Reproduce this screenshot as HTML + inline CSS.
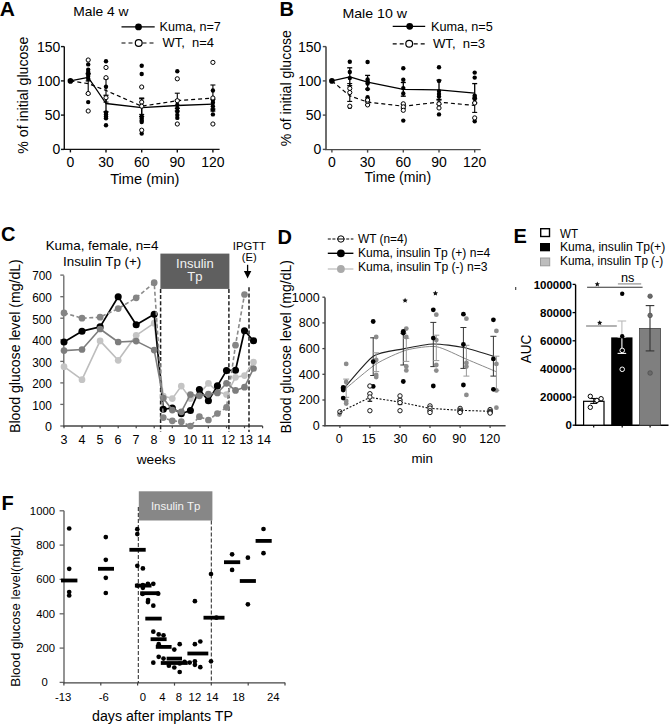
<!DOCTYPE html>
<html><head><meta charset="utf-8"><style>
html,body{margin:0;padding:0;background:#fff;}
svg{display:block;font-family:"Liberation Sans", sans-serif;}
</style></head><body>
<svg width="669" height="725" viewBox="0 0 669 725">
<rect width="669" height="725" fill="#fff"/>
<text x="-0.2" y="15.8" font-size="21" text-anchor="start" font-weight="bold" fill="#000" xml:space="preserve">A</text>
<text x="73.2" y="16.0" font-size="13.5" text-anchor="start" font-weight="normal" fill="#000" textLength="55.3" lengthAdjust="spacingAndGlyphs" xml:space="preserve">Male 4 w</text>
<line x1="121.5" y1="26.9" x2="154.7" y2="26.9" stroke="#000" stroke-width="1.2"/>
<circle cx="138.5" cy="26.9" r="3.4" fill="#000" stroke="none" stroke-width="1"/>
<text x="159.6" y="31.0" font-size="13.3" text-anchor="start" font-weight="normal" fill="#000" textLength="61.2" lengthAdjust="spacingAndGlyphs" xml:space="preserve">Kuma, n=7</text>
<line x1="121.5" y1="43.0" x2="154.7" y2="43.0" stroke="#000" stroke-width="1.2" stroke-dasharray="4,3"/>
<circle cx="138.7" cy="43.0" r="3.4" fill="#fff" stroke="#000" stroke-width="1.2"/>
<text x="162.5" y="47.4" font-size="13.3" text-anchor="start" font-weight="normal" fill="#000" textLength="51.5" lengthAdjust="spacingAndGlyphs" xml:space="preserve">WT,  n=4</text>
<line x1="64.3" y1="46.6" x2="64.3" y2="150.0" stroke="#111" stroke-width="1.4"/>
<line x1="61.0" y1="149.4" x2="64.3" y2="149.4" stroke="#111" stroke-width="1.4"/>
<text x="60.4" y="154.4" font-size="14" text-anchor="end" font-weight="normal" fill="#000" xml:space="preserve">0</text>
<line x1="61.0" y1="115.1" x2="64.3" y2="115.1" stroke="#111" stroke-width="1.4"/>
<text x="60.4" y="120.1" font-size="14" text-anchor="end" font-weight="normal" fill="#000" xml:space="preserve">50</text>
<line x1="61.0" y1="80.9" x2="64.3" y2="80.9" stroke="#111" stroke-width="1.4"/>
<text x="60.4" y="85.9" font-size="14" text-anchor="end" font-weight="normal" fill="#000" xml:space="preserve">100</text>
<line x1="61.0" y1="46.6" x2="64.3" y2="46.6" stroke="#111" stroke-width="1.4"/>
<text x="60.4" y="51.6" font-size="14" text-anchor="end" font-weight="normal" fill="#000" xml:space="preserve">150</text>
<line x1="63.6" y1="149.4" x2="219.6" y2="149.4" stroke="#111" stroke-width="1.4"/>
<line x1="70.4" y1="149.4" x2="70.4" y2="152.4" stroke="#111" stroke-width="1.4"/>
<text x="70.4" y="166.9" font-size="14" text-anchor="middle" font-weight="normal" fill="#000" xml:space="preserve">0</text>
<line x1="106.0" y1="149.4" x2="106.0" y2="152.4" stroke="#111" stroke-width="1.4"/>
<text x="106.0" y="166.9" font-size="14" text-anchor="middle" font-weight="normal" fill="#000" xml:space="preserve">30</text>
<line x1="141.7" y1="149.4" x2="141.7" y2="152.4" stroke="#111" stroke-width="1.4"/>
<text x="141.7" y="166.9" font-size="14" text-anchor="middle" font-weight="normal" fill="#000" xml:space="preserve">60</text>
<line x1="177.3" y1="149.4" x2="177.3" y2="152.4" stroke="#111" stroke-width="1.4"/>
<text x="177.3" y="166.9" font-size="14" text-anchor="middle" font-weight="normal" fill="#000" xml:space="preserve">90</text>
<line x1="212.9" y1="149.4" x2="212.9" y2="152.4" stroke="#111" stroke-width="1.4"/>
<text x="212.9" y="166.9" font-size="14" text-anchor="middle" font-weight="normal" fill="#000" xml:space="preserve">120</text>
<text x="144.8" y="183.6" font-size="14" text-anchor="middle" font-weight="normal" fill="#000" textLength="69.3" lengthAdjust="spacingAndGlyphs" xml:space="preserve">Time (min)</text>
<text x="27.9" y="95.2" font-size="14" text-anchor="middle" font-weight="normal" fill="#000" textLength="116.9" lengthAdjust="spacingAndGlyphs" transform="rotate(-90 27.9 95.2)" xml:space="preserve">% of initial glucose</text>
<polyline points="70.4,80.9 88.2,83.6 106.0,90.5 141.7,106.2 177.3,100.7 212.9,98.0" fill="none" stroke="#000" stroke-width="1.2" stroke-linejoin="round" stroke-dasharray="4,3"/>
<polyline points="70.4,80.9 88.2,77.4 106.0,103.5 141.7,107.6 177.3,105.5 212.9,104.2" fill="none" stroke="#000" stroke-width="1.3" stroke-linejoin="round"/>
<line x1="88.2" y1="73.3" x2="88.2" y2="93.9" stroke="#000" stroke-width="1.1"/>
<line x1="85.7" y1="73.3" x2="90.7" y2="73.3" stroke="#000" stroke-width="1.1"/>
<line x1="85.7" y1="93.9" x2="90.7" y2="93.9" stroke="#000" stroke-width="1.1"/>
<line x1="88.2" y1="74.0" x2="88.2" y2="80.9" stroke="#000" stroke-width="1.3"/>
<line x1="85.7" y1="74.0" x2="90.7" y2="74.0" stroke="#000" stroke-width="1.3"/>
<line x1="85.7" y1="80.9" x2="90.7" y2="80.9" stroke="#000" stroke-width="1.3"/>
<circle cx="88.2" cy="64.4" r="2.2" fill="#000" stroke="none" stroke-width="1"/>
<circle cx="88.2" cy="69.6" r="2.2" fill="#000" stroke="none" stroke-width="1"/>
<circle cx="88.2" cy="72.0" r="2.2" fill="#000" stroke="none" stroke-width="1"/>
<circle cx="88.2" cy="74.0" r="2.2" fill="#000" stroke="none" stroke-width="1"/>
<circle cx="88.2" cy="76.1" r="2.2" fill="#000" stroke="none" stroke-width="1"/>
<circle cx="88.2" cy="78.8" r="2.2" fill="#000" stroke="none" stroke-width="1"/>
<circle cx="88.2" cy="102.1" r="2.2" fill="#000" stroke="none" stroke-width="1"/>
<circle cx="88.2" cy="60.0" r="2.1" fill="#fff" stroke="#000" stroke-width="1.0"/>
<circle cx="88.2" cy="93.5" r="2.1" fill="#fff" stroke="#000" stroke-width="1.0"/>
<circle cx="88.2" cy="111.0" r="2.1" fill="#fff" stroke="#000" stroke-width="1.0"/>
<line x1="106.0" y1="78.8" x2="106.0" y2="102.1" stroke="#000" stroke-width="1.1"/>
<line x1="103.5" y1="78.8" x2="108.5" y2="78.8" stroke="#000" stroke-width="1.1"/>
<line x1="103.5" y1="102.1" x2="108.5" y2="102.1" stroke="#000" stroke-width="1.1"/>
<line x1="106.0" y1="95.3" x2="106.0" y2="111.7" stroke="#000" stroke-width="1.3"/>
<line x1="103.5" y1="95.3" x2="108.5" y2="95.3" stroke="#000" stroke-width="1.3"/>
<line x1="103.5" y1="111.7" x2="108.5" y2="111.7" stroke="#000" stroke-width="1.3"/>
<circle cx="106.0" cy="61.3" r="2.2" fill="#000" stroke="none" stroke-width="1"/>
<circle cx="106.0" cy="86.8" r="2.2" fill="#000" stroke="none" stroke-width="1"/>
<circle cx="106.0" cy="112.4" r="2.2" fill="#000" stroke="none" stroke-width="1"/>
<circle cx="106.0" cy="114.4" r="2.2" fill="#000" stroke="none" stroke-width="1"/>
<circle cx="106.0" cy="116.5" r="2.2" fill="#000" stroke="none" stroke-width="1"/>
<circle cx="106.0" cy="118.2" r="2.2" fill="#000" stroke="none" stroke-width="1"/>
<circle cx="106.0" cy="125.2" r="2.2" fill="#000" stroke="none" stroke-width="1"/>
<circle cx="106.0" cy="67.5" r="2.1" fill="#fff" stroke="#000" stroke-width="1.0"/>
<circle cx="106.0" cy="77.7" r="2.1" fill="#fff" stroke="#000" stroke-width="1.0"/>
<circle cx="106.0" cy="97.7" r="2.1" fill="#fff" stroke="#000" stroke-width="1.0"/>
<line x1="141.7" y1="98.0" x2="141.7" y2="114.4" stroke="#000" stroke-width="1.1"/>
<line x1="139.2" y1="98.0" x2="144.2" y2="98.0" stroke="#000" stroke-width="1.1"/>
<line x1="139.2" y1="114.4" x2="144.2" y2="114.4" stroke="#000" stroke-width="1.1"/>
<line x1="141.7" y1="98.7" x2="141.7" y2="116.5" stroke="#000" stroke-width="1.3"/>
<line x1="139.2" y1="98.7" x2="144.2" y2="98.7" stroke="#000" stroke-width="1.3"/>
<line x1="139.2" y1="116.5" x2="144.2" y2="116.5" stroke="#000" stroke-width="1.3"/>
<circle cx="141.7" cy="65.8" r="2.2" fill="#000" stroke="none" stroke-width="1"/>
<circle cx="141.7" cy="74.0" r="2.2" fill="#000" stroke="none" stroke-width="1"/>
<circle cx="141.7" cy="116.5" r="2.2" fill="#000" stroke="none" stroke-width="1"/>
<circle cx="141.7" cy="118.6" r="2.2" fill="#000" stroke="none" stroke-width="1"/>
<circle cx="141.7" cy="120.6" r="2.2" fill="#000" stroke="none" stroke-width="1"/>
<circle cx="141.7" cy="122.0" r="2.2" fill="#000" stroke="none" stroke-width="1"/>
<circle cx="141.7" cy="133.6" r="2.2" fill="#000" stroke="none" stroke-width="1"/>
<circle cx="141.7" cy="87.0" r="2.1" fill="#fff" stroke="#000" stroke-width="1.0"/>
<circle cx="141.7" cy="102.1" r="2.1" fill="#fff" stroke="#000" stroke-width="1.0"/>
<circle cx="141.7" cy="130.2" r="2.1" fill="#fff" stroke="#000" stroke-width="1.0"/>
<circle cx="141.7" cy="106.2" r="2.1" fill="#fff" stroke="#000" stroke-width="1.0"/>
<line x1="177.3" y1="93.2" x2="177.3" y2="108.3" stroke="#000" stroke-width="1.1"/>
<line x1="174.8" y1="93.2" x2="179.8" y2="93.2" stroke="#000" stroke-width="1.1"/>
<line x1="174.8" y1="108.3" x2="179.8" y2="108.3" stroke="#000" stroke-width="1.1"/>
<line x1="177.3" y1="100.1" x2="177.3" y2="111.0" stroke="#000" stroke-width="1.3"/>
<line x1="174.8" y1="100.1" x2="179.8" y2="100.1" stroke="#000" stroke-width="1.3"/>
<line x1="174.8" y1="111.0" x2="179.8" y2="111.0" stroke="#000" stroke-width="1.3"/>
<circle cx="177.3" cy="71.3" r="2.2" fill="#000" stroke="none" stroke-width="1"/>
<circle cx="177.3" cy="104.9" r="2.2" fill="#000" stroke="none" stroke-width="1"/>
<circle cx="177.3" cy="108.3" r="2.2" fill="#000" stroke="none" stroke-width="1"/>
<circle cx="177.3" cy="111.7" r="2.2" fill="#000" stroke="none" stroke-width="1"/>
<circle cx="177.3" cy="115.1" r="2.2" fill="#000" stroke="none" stroke-width="1"/>
<circle cx="177.3" cy="117.9" r="2.2" fill="#000" stroke="none" stroke-width="1"/>
<circle cx="177.3" cy="78.8" r="2.1" fill="#fff" stroke="#000" stroke-width="1.0"/>
<circle cx="177.3" cy="100.7" r="2.1" fill="#fff" stroke="#000" stroke-width="1.0"/>
<circle cx="177.3" cy="124.0" r="2.1" fill="#fff" stroke="#000" stroke-width="1.0"/>
<line x1="212.9" y1="85.0" x2="212.9" y2="111.0" stroke="#000" stroke-width="1.1"/>
<line x1="210.4" y1="85.0" x2="215.4" y2="85.0" stroke="#000" stroke-width="1.1"/>
<line x1="210.4" y1="111.0" x2="215.4" y2="111.0" stroke="#000" stroke-width="1.1"/>
<line x1="212.9" y1="99.4" x2="212.9" y2="109.0" stroke="#000" stroke-width="1.3"/>
<line x1="210.4" y1="99.4" x2="215.4" y2="99.4" stroke="#000" stroke-width="1.3"/>
<line x1="210.4" y1="109.0" x2="215.4" y2="109.0" stroke="#000" stroke-width="1.3"/>
<circle cx="212.9" cy="90.5" r="2.2" fill="#000" stroke="none" stroke-width="1"/>
<circle cx="212.9" cy="100.1" r="2.2" fill="#000" stroke="none" stroke-width="1"/>
<circle cx="212.9" cy="102.8" r="2.2" fill="#000" stroke="none" stroke-width="1"/>
<circle cx="212.9" cy="106.2" r="2.2" fill="#000" stroke="none" stroke-width="1"/>
<circle cx="212.9" cy="109.7" r="2.2" fill="#000" stroke="none" stroke-width="1"/>
<circle cx="212.9" cy="114.4" r="2.2" fill="#000" stroke="none" stroke-width="1"/>
<circle cx="212.9" cy="62.4" r="2.1" fill="#fff" stroke="#000" stroke-width="1.0"/>
<circle cx="212.9" cy="98.0" r="2.1" fill="#fff" stroke="#000" stroke-width="1.0"/>
<circle cx="212.9" cy="124.0" r="2.1" fill="#fff" stroke="#000" stroke-width="1.0"/>
<circle cx="70.4" cy="80.9" r="2.8" fill="#000" stroke="none" stroke-width="1"/>
<text x="279.6" y="15.8" font-size="20" text-anchor="start" font-weight="bold" fill="#000" xml:space="preserve">B</text>
<text x="342.4" y="17.5" font-size="13.5" text-anchor="start" font-weight="normal" fill="#000" textLength="64.6" lengthAdjust="spacingAndGlyphs" xml:space="preserve">Male 10 w</text>
<line x1="392.7" y1="26.3" x2="425.2" y2="26.3" stroke="#000" stroke-width="1.2"/>
<circle cx="409.7" cy="26.3" r="3.4" fill="#000" stroke="none" stroke-width="1"/>
<text x="431.0" y="31.3" font-size="13.3" text-anchor="start" font-weight="normal" fill="#000" textLength="61.7" lengthAdjust="spacingAndGlyphs" xml:space="preserve">Kuma, n=5</text>
<line x1="392.7" y1="43.8" x2="425.2" y2="43.8" stroke="#000" stroke-width="1.2" stroke-dasharray="4,3"/>
<circle cx="409.2" cy="43.8" r="3.4" fill="#fff" stroke="#000" stroke-width="1.2"/>
<text x="432.9" y="48.0" font-size="13.3" text-anchor="start" font-weight="normal" fill="#000" textLength="52.3" lengthAdjust="spacingAndGlyphs" xml:space="preserve">WT,  n=3</text>
<line x1="326.0" y1="46.6" x2="326.0" y2="150.0" stroke="#4a4a4a" stroke-width="1.6"/>
<line x1="322.8" y1="149.4" x2="326.0" y2="149.4" stroke="#4a4a4a" stroke-width="1.4"/>
<text x="321.4" y="154.4" font-size="14" text-anchor="end" font-weight="normal" fill="#000" xml:space="preserve">0</text>
<line x1="322.8" y1="115.1" x2="326.0" y2="115.1" stroke="#4a4a4a" stroke-width="1.4"/>
<text x="321.4" y="120.1" font-size="14" text-anchor="end" font-weight="normal" fill="#000" xml:space="preserve">50</text>
<line x1="322.8" y1="80.9" x2="326.0" y2="80.9" stroke="#4a4a4a" stroke-width="1.4"/>
<text x="321.4" y="85.9" font-size="14" text-anchor="end" font-weight="normal" fill="#000" xml:space="preserve">100</text>
<line x1="322.8" y1="46.6" x2="326.0" y2="46.6" stroke="#4a4a4a" stroke-width="1.4"/>
<text x="321.4" y="51.6" font-size="14" text-anchor="end" font-weight="normal" fill="#000" xml:space="preserve">150</text>
<line x1="325.2" y1="149.6" x2="480.7" y2="149.6" stroke="#4a4a4a" stroke-width="1.4"/>
<line x1="331.9" y1="149.6" x2="331.9" y2="152.6" stroke="#4a4a4a" stroke-width="1.4"/>
<text x="331.9" y="166.5" font-size="14" text-anchor="middle" font-weight="normal" fill="#000" xml:space="preserve">0</text>
<line x1="367.6" y1="149.6" x2="367.6" y2="152.6" stroke="#4a4a4a" stroke-width="1.4"/>
<text x="367.6" y="166.5" font-size="14" text-anchor="middle" font-weight="normal" fill="#000" xml:space="preserve">30</text>
<line x1="403.3" y1="149.6" x2="403.3" y2="152.6" stroke="#4a4a4a" stroke-width="1.4"/>
<text x="403.3" y="166.5" font-size="14" text-anchor="middle" font-weight="normal" fill="#000" xml:space="preserve">60</text>
<line x1="439.0" y1="149.6" x2="439.0" y2="152.6" stroke="#4a4a4a" stroke-width="1.4"/>
<text x="439.0" y="166.5" font-size="14" text-anchor="middle" font-weight="normal" fill="#000" xml:space="preserve">90</text>
<line x1="474.7" y1="149.6" x2="474.7" y2="152.6" stroke="#4a4a4a" stroke-width="1.4"/>
<text x="474.7" y="166.5" font-size="14" text-anchor="middle" font-weight="normal" fill="#000" xml:space="preserve">120</text>
<text x="397.8" y="181.8" font-size="14" text-anchor="middle" font-weight="normal" fill="#000" textLength="66.6" lengthAdjust="spacingAndGlyphs" xml:space="preserve">Time (min)</text>
<text x="290.7" y="88.3" font-size="14" text-anchor="middle" font-weight="normal" fill="#000" textLength="116.1" lengthAdjust="spacingAndGlyphs" transform="rotate(-90 290.7 88.3)" xml:space="preserve">% of initial glucose</text>
<polyline points="331.9,80.9 349.8,95.9 367.6,102.1 403.3,106.2 439.0,102.1 474.7,105.5" fill="none" stroke="#000" stroke-width="1.2" stroke-linejoin="round" stroke-dasharray="4,3"/>
<polyline points="331.9,80.9 349.8,76.8 367.6,82.2 403.3,89.4 439.0,89.8 474.7,93.2" fill="none" stroke="#000" stroke-width="1.3" stroke-linejoin="round"/>
<line x1="349.8" y1="83.6" x2="349.8" y2="101.4" stroke="#000" stroke-width="1.1"/>
<line x1="347.2" y1="83.6" x2="352.2" y2="83.6" stroke="#000" stroke-width="1.1"/>
<line x1="347.2" y1="101.4" x2="352.2" y2="101.4" stroke="#000" stroke-width="1.1"/>
<line x1="349.8" y1="67.8" x2="349.8" y2="85.7" stroke="#000" stroke-width="1.3"/>
<line x1="347.2" y1="67.8" x2="352.2" y2="67.8" stroke="#000" stroke-width="1.3"/>
<line x1="347.2" y1="85.7" x2="352.2" y2="85.7" stroke="#000" stroke-width="1.3"/>
<circle cx="349.8" cy="61.7" r="2.2" fill="#000" stroke="none" stroke-width="1"/>
<circle cx="349.8" cy="72.0" r="2.2" fill="#000" stroke="none" stroke-width="1"/>
<circle cx="349.8" cy="78.1" r="2.2" fill="#000" stroke="none" stroke-width="1"/>
<circle cx="349.8" cy="106.9" r="2.2" fill="#000" stroke="none" stroke-width="1"/>
<circle cx="349.8" cy="88.4" r="2.1" fill="#fff" stroke="#000" stroke-width="1.0"/>
<circle cx="349.8" cy="92.5" r="2.1" fill="#fff" stroke="#000" stroke-width="1.0"/>
<circle cx="349.8" cy="106.2" r="2.1" fill="#fff" stroke="#000" stroke-width="1.0"/>
<line x1="367.6" y1="99.4" x2="367.6" y2="104.9" stroke="#000" stroke-width="1.1"/>
<line x1="365.1" y1="99.4" x2="370.1" y2="99.4" stroke="#000" stroke-width="1.1"/>
<line x1="365.1" y1="104.9" x2="370.1" y2="104.9" stroke="#000" stroke-width="1.1"/>
<line x1="367.6" y1="75.4" x2="367.6" y2="89.1" stroke="#000" stroke-width="1.3"/>
<line x1="365.1" y1="75.4" x2="370.1" y2="75.4" stroke="#000" stroke-width="1.3"/>
<line x1="365.1" y1="89.1" x2="370.1" y2="89.1" stroke="#000" stroke-width="1.3"/>
<circle cx="367.6" cy="62.0" r="2.2" fill="#000" stroke="none" stroke-width="1"/>
<circle cx="367.6" cy="79.5" r="2.2" fill="#000" stroke="none" stroke-width="1"/>
<circle cx="367.6" cy="81.6" r="2.2" fill="#000" stroke="none" stroke-width="1"/>
<circle cx="367.6" cy="83.6" r="2.2" fill="#000" stroke="none" stroke-width="1"/>
<circle cx="367.6" cy="89.1" r="2.2" fill="#000" stroke="none" stroke-width="1"/>
<circle cx="367.6" cy="97.3" r="2.2" fill="#000" stroke="none" stroke-width="1"/>
<circle cx="367.6" cy="99.4" r="2.2" fill="#000" stroke="none" stroke-width="1"/>
<circle cx="367.6" cy="101.4" r="2.2" fill="#000" stroke="none" stroke-width="1"/>
<circle cx="367.6" cy="104.9" r="2.1" fill="#fff" stroke="#000" stroke-width="1.0"/>
<circle cx="367.6" cy="101.4" r="2.1" fill="#fff" stroke="#000" stroke-width="1.0"/>
<circle cx="367.6" cy="100.1" r="2.1" fill="#fff" stroke="#000" stroke-width="1.0"/>
<line x1="403.3" y1="104.2" x2="403.3" y2="108.3" stroke="#000" stroke-width="1.1"/>
<line x1="400.8" y1="104.2" x2="405.8" y2="104.2" stroke="#000" stroke-width="1.1"/>
<line x1="400.8" y1="108.3" x2="405.8" y2="108.3" stroke="#000" stroke-width="1.1"/>
<line x1="403.3" y1="82.5" x2="403.3" y2="96.2" stroke="#000" stroke-width="1.3"/>
<line x1="400.8" y1="82.5" x2="405.8" y2="82.5" stroke="#000" stroke-width="1.3"/>
<line x1="400.8" y1="96.2" x2="405.8" y2="96.2" stroke="#000" stroke-width="1.3"/>
<circle cx="403.3" cy="68.2" r="2.2" fill="#000" stroke="none" stroke-width="1"/>
<circle cx="403.3" cy="79.8" r="2.2" fill="#000" stroke="none" stroke-width="1"/>
<circle cx="403.3" cy="88.1" r="2.2" fill="#000" stroke="none" stroke-width="1"/>
<circle cx="403.3" cy="93.5" r="2.2" fill="#000" stroke="none" stroke-width="1"/>
<circle cx="403.3" cy="120.6" r="2.2" fill="#000" stroke="none" stroke-width="1"/>
<circle cx="403.3" cy="103.8" r="2.1" fill="#fff" stroke="#000" stroke-width="1.0"/>
<circle cx="403.3" cy="106.9" r="2.1" fill="#fff" stroke="#000" stroke-width="1.0"/>
<circle cx="403.3" cy="110.3" r="2.1" fill="#fff" stroke="#000" stroke-width="1.0"/>
<line x1="439.0" y1="100.1" x2="439.0" y2="104.2" stroke="#000" stroke-width="1.1"/>
<line x1="436.5" y1="100.1" x2="441.5" y2="100.1" stroke="#000" stroke-width="1.1"/>
<line x1="436.5" y1="104.2" x2="441.5" y2="104.2" stroke="#000" stroke-width="1.1"/>
<line x1="439.0" y1="80.2" x2="439.0" y2="99.4" stroke="#000" stroke-width="1.3"/>
<line x1="436.5" y1="80.2" x2="441.5" y2="80.2" stroke="#000" stroke-width="1.3"/>
<line x1="436.5" y1="99.4" x2="441.5" y2="99.4" stroke="#000" stroke-width="1.3"/>
<circle cx="439.0" cy="67.2" r="2.2" fill="#000" stroke="none" stroke-width="1"/>
<circle cx="439.0" cy="80.9" r="2.2" fill="#000" stroke="none" stroke-width="1"/>
<circle cx="439.0" cy="91.1" r="2.2" fill="#000" stroke="none" stroke-width="1"/>
<circle cx="439.0" cy="93.9" r="2.2" fill="#000" stroke="none" stroke-width="1"/>
<circle cx="439.0" cy="96.6" r="2.2" fill="#000" stroke="none" stroke-width="1"/>
<circle cx="439.0" cy="114.4" r="2.2" fill="#000" stroke="none" stroke-width="1"/>
<circle cx="439.0" cy="103.8" r="2.1" fill="#fff" stroke="#000" stroke-width="1.0"/>
<circle cx="439.0" cy="108.0" r="2.1" fill="#fff" stroke="#000" stroke-width="1.0"/>
<line x1="474.7" y1="98.7" x2="474.7" y2="112.4" stroke="#000" stroke-width="1.1"/>
<line x1="472.2" y1="98.7" x2="477.2" y2="98.7" stroke="#000" stroke-width="1.1"/>
<line x1="472.2" y1="112.4" x2="477.2" y2="112.4" stroke="#000" stroke-width="1.1"/>
<line x1="474.7" y1="83.6" x2="474.7" y2="102.8" stroke="#000" stroke-width="1.3"/>
<line x1="472.2" y1="83.6" x2="477.2" y2="83.6" stroke="#000" stroke-width="1.3"/>
<line x1="472.2" y1="102.8" x2="477.2" y2="102.8" stroke="#000" stroke-width="1.3"/>
<circle cx="474.7" cy="72.6" r="2.2" fill="#000" stroke="none" stroke-width="1"/>
<circle cx="474.7" cy="77.6" r="2.2" fill="#000" stroke="none" stroke-width="1"/>
<circle cx="474.7" cy="95.6" r="2.2" fill="#000" stroke="none" stroke-width="1"/>
<circle cx="474.7" cy="97.3" r="2.2" fill="#000" stroke="none" stroke-width="1"/>
<circle cx="474.7" cy="98.9" r="2.2" fill="#000" stroke="none" stroke-width="1"/>
<circle cx="474.7" cy="121.3" r="2.2" fill="#000" stroke="none" stroke-width="1"/>
<circle cx="474.7" cy="103.0" r="2.1" fill="#fff" stroke="#000" stroke-width="1.0"/>
<circle cx="474.7" cy="117.9" r="2.1" fill="#fff" stroke="#000" stroke-width="1.0"/>
<circle cx="331.9" cy="80.9" r="2.8" fill="#000" stroke="none" stroke-width="1"/>
<text x="1.0" y="241.3" font-size="20" text-anchor="start" font-weight="bold" fill="#000" xml:space="preserve">C</text>
<text x="45.7" y="249.9" font-size="13.4" text-anchor="start" font-weight="normal" fill="#000" textLength="112.7" lengthAdjust="spacingAndGlyphs" xml:space="preserve">Kuma, female, n=4</text>
<text x="63.0" y="265.5" font-size="13.4" text-anchor="start" font-weight="normal" fill="#000" textLength="78.3" lengthAdjust="spacingAndGlyphs" xml:space="preserve">Insulin Tp (+)</text>
<line x1="63.8" y1="275.6" x2="63.8" y2="426.6" stroke="#666" stroke-width="1.3"/>
<line x1="60.3" y1="426.0" x2="63.8" y2="426.0" stroke="#666" stroke-width="1.3"/>
<text x="51.9" y="431.3" font-size="12.5" text-anchor="end" font-weight="normal" fill="#000" xml:space="preserve">0</text>
<line x1="60.3" y1="404.4" x2="63.8" y2="404.4" stroke="#666" stroke-width="1.3"/>
<text x="51.9" y="409.8" font-size="12.5" text-anchor="end" font-weight="normal" fill="#000" textLength="19.7" lengthAdjust="spacingAndGlyphs" xml:space="preserve">100</text>
<line x1="60.3" y1="382.9" x2="63.8" y2="382.9" stroke="#666" stroke-width="1.3"/>
<text x="51.9" y="388.2" font-size="12.5" text-anchor="end" font-weight="normal" fill="#000" textLength="19.7" lengthAdjust="spacingAndGlyphs" xml:space="preserve">200</text>
<line x1="60.3" y1="361.4" x2="63.8" y2="361.4" stroke="#666" stroke-width="1.3"/>
<text x="51.9" y="366.7" font-size="12.5" text-anchor="end" font-weight="normal" fill="#000" textLength="19.7" lengthAdjust="spacingAndGlyphs" xml:space="preserve">300</text>
<line x1="60.3" y1="339.8" x2="63.8" y2="339.8" stroke="#666" stroke-width="1.3"/>
<text x="51.9" y="345.1" font-size="12.5" text-anchor="end" font-weight="normal" fill="#000" textLength="19.7" lengthAdjust="spacingAndGlyphs" xml:space="preserve">400</text>
<line x1="60.3" y1="318.2" x2="63.8" y2="318.2" stroke="#666" stroke-width="1.3"/>
<text x="51.9" y="323.6" font-size="12.5" text-anchor="end" font-weight="normal" fill="#000" textLength="19.7" lengthAdjust="spacingAndGlyphs" xml:space="preserve">500</text>
<line x1="60.3" y1="296.7" x2="63.8" y2="296.7" stroke="#666" stroke-width="1.3"/>
<text x="51.9" y="302.0" font-size="12.5" text-anchor="end" font-weight="normal" fill="#000" textLength="19.7" lengthAdjust="spacingAndGlyphs" xml:space="preserve">600</text>
<line x1="60.3" y1="275.1" x2="63.8" y2="275.1" stroke="#666" stroke-width="1.3"/>
<text x="51.9" y="280.4" font-size="12.5" text-anchor="end" font-weight="normal" fill="#000" textLength="19.7" lengthAdjust="spacingAndGlyphs" xml:space="preserve">700</text>
<line x1="63.2" y1="426.0" x2="262.6" y2="426.0" stroke="#444" stroke-width="1.3"/>
<line x1="64.0" y1="426.0" x2="64.0" y2="428.2" stroke="#444" stroke-width="1.2"/>
<line x1="82.0" y1="426.0" x2="82.0" y2="428.2" stroke="#444" stroke-width="1.2"/>
<line x1="100.1" y1="426.0" x2="100.1" y2="428.2" stroke="#444" stroke-width="1.2"/>
<line x1="118.2" y1="426.0" x2="118.2" y2="428.2" stroke="#444" stroke-width="1.2"/>
<line x1="136.2" y1="426.0" x2="136.2" y2="428.2" stroke="#444" stroke-width="1.2"/>
<line x1="154.2" y1="426.0" x2="154.2" y2="428.2" stroke="#444" stroke-width="1.2"/>
<line x1="172.3" y1="426.0" x2="172.3" y2="428.2" stroke="#444" stroke-width="1.2"/>
<line x1="190.4" y1="426.0" x2="190.4" y2="428.2" stroke="#444" stroke-width="1.2"/>
<line x1="208.4" y1="426.0" x2="208.4" y2="428.2" stroke="#444" stroke-width="1.2"/>
<line x1="226.5" y1="426.0" x2="226.5" y2="428.2" stroke="#444" stroke-width="1.2"/>
<line x1="244.5" y1="426.0" x2="244.5" y2="428.2" stroke="#444" stroke-width="1.2"/>
<line x1="262.6" y1="426.0" x2="262.6" y2="428.2" stroke="#444" stroke-width="1.2"/>
<text x="64.0" y="444.3" font-size="12.5" text-anchor="middle" font-weight="normal" fill="#000" xml:space="preserve">3</text>
<text x="82.1" y="444.3" font-size="12.5" text-anchor="middle" font-weight="normal" fill="#000" xml:space="preserve">4</text>
<text x="99.9" y="444.3" font-size="12.5" text-anchor="middle" font-weight="normal" fill="#000" xml:space="preserve">5</text>
<text x="117.9" y="444.3" font-size="12.5" text-anchor="middle" font-weight="normal" fill="#000" xml:space="preserve">6</text>
<text x="135.9" y="444.3" font-size="12.5" text-anchor="middle" font-weight="normal" fill="#000" xml:space="preserve">7</text>
<text x="154.0" y="444.3" font-size="12.5" text-anchor="middle" font-weight="normal" fill="#000" xml:space="preserve">8</text>
<text x="171.8" y="444.3" font-size="12.5" text-anchor="middle" font-weight="normal" fill="#000" xml:space="preserve">9</text>
<text x="190.3" y="444.3" font-size="12.5" text-anchor="middle" font-weight="normal" fill="#000" xml:space="preserve">10</text>
<text x="207.8" y="444.3" font-size="12.5" text-anchor="middle" font-weight="normal" fill="#000" xml:space="preserve">11</text>
<text x="228.3" y="444.3" font-size="12.5" text-anchor="middle" font-weight="normal" fill="#000" xml:space="preserve">12</text>
<text x="246.1" y="444.3" font-size="12.5" text-anchor="middle" font-weight="normal" fill="#000" xml:space="preserve">13</text>
<text x="263.9" y="444.3" font-size="12.5" text-anchor="middle" font-weight="normal" fill="#000" xml:space="preserve">14</text>
<text x="156.1" y="463.5" font-size="13.7" text-anchor="middle" font-weight="normal" fill="#000" textLength="38.9" lengthAdjust="spacingAndGlyphs" xml:space="preserve">weeks</text>
<text x="20.4" y="346.1" font-size="14" text-anchor="middle" font-weight="normal" fill="#000" textLength="173.8" lengthAdjust="spacingAndGlyphs" transform="rotate(-90 20.4 346.1)" xml:space="preserve">Blood glucose level (mg/dL)</text>
<rect x="160.4" y="253.6" width="69.0" height="35.3" fill="#5f5f5f" stroke="none" stroke-width="1"/>
<text x="194.9" y="268.0" font-size="13" text-anchor="middle" font-weight="normal" fill="#f2f2f2" xml:space="preserve">Insulin</text>
<text x="194.9" y="281.1" font-size="13" text-anchor="middle" font-weight="normal" fill="#f2f2f2" xml:space="preserve">Tp</text>
<text x="249.4" y="249.9" font-size="11.2" text-anchor="middle" font-weight="normal" fill="#000" textLength="33.1" lengthAdjust="spacingAndGlyphs" xml:space="preserve">IPGTT</text>
<text x="249.3" y="260.7" font-size="11.2" text-anchor="middle" font-weight="normal" fill="#000" xml:space="preserve">(E)</text>
<line x1="247.6" y1="264.8" x2="247.6" y2="272.0" stroke="#000" stroke-width="1.3"/>
<polygon points="243.9,271 251.3,271 247.6,278.5" fill="#000"/>
<line x1="160.6" y1="288.9" x2="160.6" y2="432.0" stroke="#222" stroke-width="1.5" stroke-dasharray="4,2.2"/>
<line x1="228.9" y1="288.9" x2="228.9" y2="432.0" stroke="#222" stroke-width="1.5" stroke-dasharray="4,2.2"/>
<line x1="249.0" y1="287.2" x2="249.0" y2="432.0" stroke="#222" stroke-width="1.5" stroke-dasharray="4,2.2"/>
<polyline points="64.0,366.7 82.0,379.7 100.1,340.9 118.2,360.3 136.2,335.3 154.2,323.2 163.3,396.0 172.3,398.6 181.3,386.1 190.4,398.6 199.4,393.7 208.4,383.3 217.4,391.5 226.5,394.5 235.5,377.3 244.5,375.6 253.5,362.0" fill="none" stroke="#bdbdbd" stroke-width="1.6" stroke-linejoin="round"/>
<circle cx="64.0" cy="366.7" r="3.35" fill="#c4c4c4" stroke="none" stroke-width="1"/>
<circle cx="82.0" cy="379.7" r="3.35" fill="#c4c4c4" stroke="none" stroke-width="1"/>
<circle cx="100.1" cy="340.9" r="3.35" fill="#c4c4c4" stroke="none" stroke-width="1"/>
<circle cx="118.2" cy="360.3" r="3.35" fill="#c4c4c4" stroke="none" stroke-width="1"/>
<circle cx="136.2" cy="335.3" r="3.35" fill="#c4c4c4" stroke="none" stroke-width="1"/>
<circle cx="154.2" cy="323.2" r="3.35" fill="#c4c4c4" stroke="none" stroke-width="1"/>
<circle cx="163.3" cy="396.0" r="3.35" fill="#c4c4c4" stroke="none" stroke-width="1"/>
<circle cx="172.3" cy="398.6" r="3.35" fill="#c4c4c4" stroke="none" stroke-width="1"/>
<circle cx="181.3" cy="386.1" r="3.35" fill="#c4c4c4" stroke="none" stroke-width="1"/>
<circle cx="190.4" cy="398.6" r="3.35" fill="#c4c4c4" stroke="none" stroke-width="1"/>
<circle cx="199.4" cy="393.7" r="3.35" fill="#c4c4c4" stroke="none" stroke-width="1"/>
<circle cx="208.4" cy="383.3" r="3.35" fill="#c4c4c4" stroke="none" stroke-width="1"/>
<circle cx="217.4" cy="391.5" r="3.35" fill="#c4c4c4" stroke="none" stroke-width="1"/>
<circle cx="226.5" cy="394.5" r="3.35" fill="#c4c4c4" stroke="none" stroke-width="1"/>
<circle cx="235.5" cy="377.3" r="3.35" fill="#c4c4c4" stroke="none" stroke-width="1"/>
<circle cx="244.5" cy="375.6" r="3.35" fill="#c4c4c4" stroke="none" stroke-width="1"/>
<circle cx="253.5" cy="362.0" r="3.35" fill="#c4c4c4" stroke="none" stroke-width="1"/>
<polyline points="64.0,342.0 82.0,331.2 100.1,326.9 118.2,296.7 136.2,324.7 154.2,314.2 163.3,409.3 172.3,408.0 181.3,413.7 190.4,410.5 199.4,389.6 208.4,400.8 217.4,385.9 226.5,370.6 235.5,370.2 244.5,330.7 253.5,340.7" fill="none" stroke="#000" stroke-width="1.7" stroke-linejoin="round"/>
<circle cx="64.0" cy="342.0" r="3.55" fill="#000" stroke="none" stroke-width="1"/>
<circle cx="82.0" cy="331.2" r="3.55" fill="#000" stroke="none" stroke-width="1"/>
<circle cx="100.1" cy="326.9" r="3.55" fill="#000" stroke="none" stroke-width="1"/>
<circle cx="118.2" cy="296.7" r="3.55" fill="#000" stroke="none" stroke-width="1"/>
<circle cx="136.2" cy="324.7" r="3.55" fill="#000" stroke="none" stroke-width="1"/>
<circle cx="154.2" cy="314.2" r="3.55" fill="#000" stroke="none" stroke-width="1"/>
<circle cx="163.3" cy="409.3" r="3.55" fill="#000" stroke="none" stroke-width="1"/>
<circle cx="172.3" cy="408.0" r="3.55" fill="#000" stroke="none" stroke-width="1"/>
<circle cx="181.3" cy="413.7" r="3.55" fill="#000" stroke="none" stroke-width="1"/>
<circle cx="190.4" cy="410.5" r="3.55" fill="#000" stroke="none" stroke-width="1"/>
<circle cx="199.4" cy="389.6" r="3.55" fill="#000" stroke="none" stroke-width="1"/>
<circle cx="208.4" cy="400.8" r="3.55" fill="#000" stroke="none" stroke-width="1"/>
<circle cx="217.4" cy="385.9" r="3.55" fill="#000" stroke="none" stroke-width="1"/>
<circle cx="226.5" cy="370.6" r="3.55" fill="#000" stroke="none" stroke-width="1"/>
<circle cx="235.5" cy="370.2" r="3.55" fill="#000" stroke="none" stroke-width="1"/>
<circle cx="244.5" cy="330.7" r="3.55" fill="#000" stroke="none" stroke-width="1"/>
<circle cx="253.5" cy="340.7" r="3.55" fill="#000" stroke="none" stroke-width="1"/>
<polyline points="64.0,350.6 82.0,349.5 100.1,329.0 118.2,342.0 136.2,341.1 154.2,350.1 163.3,398.2 172.3,410.1 181.3,411.8 190.4,394.5 199.4,395.8 208.4,394.1 217.4,393.0 226.5,383.3 235.5,390.4 244.5,387.2 253.5,368.5" fill="none" stroke="#7d7d7d" stroke-width="1.6" stroke-linejoin="round"/>
<circle cx="64.0" cy="350.6" r="3.35" fill="#7d7d7d" stroke="none" stroke-width="1"/>
<circle cx="82.0" cy="349.5" r="3.35" fill="#7d7d7d" stroke="none" stroke-width="1"/>
<circle cx="100.1" cy="329.0" r="3.35" fill="#7d7d7d" stroke="none" stroke-width="1"/>
<circle cx="118.2" cy="342.0" r="3.35" fill="#7d7d7d" stroke="none" stroke-width="1"/>
<circle cx="136.2" cy="341.1" r="3.35" fill="#7d7d7d" stroke="none" stroke-width="1"/>
<circle cx="154.2" cy="350.1" r="3.35" fill="#7d7d7d" stroke="none" stroke-width="1"/>
<circle cx="163.3" cy="398.2" r="3.35" fill="#7d7d7d" stroke="none" stroke-width="1"/>
<circle cx="172.3" cy="410.1" r="3.35" fill="#7d7d7d" stroke="none" stroke-width="1"/>
<circle cx="181.3" cy="411.8" r="3.35" fill="#7d7d7d" stroke="none" stroke-width="1"/>
<circle cx="190.4" cy="394.5" r="3.35" fill="#7d7d7d" stroke="none" stroke-width="1"/>
<circle cx="199.4" cy="395.8" r="3.35" fill="#7d7d7d" stroke="none" stroke-width="1"/>
<circle cx="208.4" cy="394.1" r="3.35" fill="#7d7d7d" stroke="none" stroke-width="1"/>
<circle cx="217.4" cy="393.0" r="3.35" fill="#7d7d7d" stroke="none" stroke-width="1"/>
<circle cx="226.5" cy="383.3" r="3.35" fill="#7d7d7d" stroke="none" stroke-width="1"/>
<circle cx="235.5" cy="390.4" r="3.35" fill="#7d7d7d" stroke="none" stroke-width="1"/>
<circle cx="244.5" cy="387.2" r="3.35" fill="#7d7d7d" stroke="none" stroke-width="1"/>
<circle cx="253.5" cy="368.5" r="3.35" fill="#7d7d7d" stroke="none" stroke-width="1"/>
<polyline points="64.0,312.9 82.0,318.2 100.1,317.2 118.2,308.6 136.2,297.8 154.2,282.7 163.3,417.6 172.3,420.8 181.3,421.7 190.4,426.0 199.4,416.7 208.4,420.0 217.4,413.5 226.5,407.3 235.5,345.2 244.5,294.5" fill="none" stroke="#8a8a8a" stroke-width="1.6" stroke-linejoin="round" stroke-dasharray="4,2.5"/>
<circle cx="64.0" cy="312.9" r="3.35" fill="#858585" stroke="none" stroke-width="1"/>
<circle cx="82.0" cy="318.2" r="3.35" fill="#858585" stroke="none" stroke-width="1"/>
<circle cx="100.1" cy="317.2" r="3.35" fill="#858585" stroke="none" stroke-width="1"/>
<circle cx="118.2" cy="308.6" r="3.35" fill="#858585" stroke="none" stroke-width="1"/>
<circle cx="136.2" cy="297.8" r="3.35" fill="#858585" stroke="none" stroke-width="1"/>
<circle cx="154.2" cy="282.7" r="3.35" fill="#858585" stroke="none" stroke-width="1"/>
<circle cx="163.3" cy="417.6" r="3.35" fill="#858585" stroke="none" stroke-width="1"/>
<circle cx="172.3" cy="420.8" r="3.35" fill="#858585" stroke="none" stroke-width="1"/>
<circle cx="181.3" cy="421.7" r="3.35" fill="#858585" stroke="none" stroke-width="1"/>
<circle cx="190.4" cy="426.0" r="3.35" fill="#858585" stroke="none" stroke-width="1"/>
<circle cx="199.4" cy="416.7" r="3.35" fill="#858585" stroke="none" stroke-width="1"/>
<circle cx="208.4" cy="420.0" r="3.35" fill="#858585" stroke="none" stroke-width="1"/>
<circle cx="217.4" cy="413.5" r="3.35" fill="#858585" stroke="none" stroke-width="1"/>
<circle cx="226.5" cy="407.3" r="3.35" fill="#858585" stroke="none" stroke-width="1"/>
<circle cx="235.5" cy="345.2" r="3.35" fill="#858585" stroke="none" stroke-width="1"/>
<circle cx="244.5" cy="294.5" r="3.35" fill="#858585" stroke="none" stroke-width="1"/>
<text x="277.5" y="244.3" font-size="20" text-anchor="start" font-weight="bold" fill="#000" xml:space="preserve">D</text>
<line x1="327.8" y1="239.0" x2="353.4" y2="239.0" stroke="#000" stroke-width="1.1" stroke-dasharray="3,1.6"/>
<circle cx="340.9" cy="239.0" r="3.2" fill="#fff" stroke="#000" stroke-width="1.0"/>
<line x1="337.7" y1="239.0" x2="344.1" y2="239.0" stroke="#000" stroke-width="1.0"/>
<text x="358.0" y="242.8" font-size="12" text-anchor="start" font-weight="normal" fill="#000" textLength="49.5" lengthAdjust="spacingAndGlyphs" xml:space="preserve">WT (n=4)</text>
<line x1="327.8" y1="253.3" x2="353.4" y2="253.3" stroke="#000" stroke-width="1.4"/>
<circle cx="340.9" cy="253.3" r="3.9" fill="#000" stroke="none" stroke-width="1"/>
<text x="358.0" y="257.2" font-size="12" text-anchor="start" font-weight="normal" fill="#000" textLength="132.2" lengthAdjust="spacingAndGlyphs" xml:space="preserve">Kuma, insulin Tp (+) n=4</text>
<line x1="327.8" y1="269.0" x2="353.4" y2="269.0" stroke="#bbb" stroke-width="1.2"/>
<circle cx="340.9" cy="269.0" r="3.9" fill="#aaa" stroke="none" stroke-width="1"/>
<text x="358.0" y="271.4" font-size="12" text-anchor="start" font-weight="normal" fill="#000" textLength="129.6" lengthAdjust="spacingAndGlyphs" xml:space="preserve">Kuma, insulin Tp (-) n=3</text>
<line x1="325.0" y1="297.4" x2="325.0" y2="426.2" stroke="#444" stroke-width="1.5"/>
<line x1="322.4" y1="425.7" x2="325.0" y2="425.7" stroke="#444" stroke-width="1.3"/>
<text x="319.6" y="430.1" font-size="12.5" text-anchor="end" font-weight="normal" fill="#000" xml:space="preserve">0</text>
<line x1="322.4" y1="400.0" x2="325.0" y2="400.0" stroke="#444" stroke-width="1.3"/>
<text x="319.6" y="404.4" font-size="12.5" text-anchor="end" font-weight="normal" fill="#000" xml:space="preserve">200</text>
<line x1="322.4" y1="374.3" x2="325.0" y2="374.3" stroke="#444" stroke-width="1.3"/>
<text x="319.6" y="378.7" font-size="12.5" text-anchor="end" font-weight="normal" fill="#000" xml:space="preserve">400</text>
<line x1="322.4" y1="348.6" x2="325.0" y2="348.6" stroke="#444" stroke-width="1.3"/>
<text x="319.6" y="353.0" font-size="12.5" text-anchor="end" font-weight="normal" fill="#000" xml:space="preserve">600</text>
<line x1="322.4" y1="322.9" x2="325.0" y2="322.9" stroke="#444" stroke-width="1.3"/>
<text x="319.6" y="327.3" font-size="12.5" text-anchor="end" font-weight="normal" fill="#000" xml:space="preserve">800</text>
<line x1="322.4" y1="297.2" x2="325.0" y2="297.2" stroke="#444" stroke-width="1.3"/>
<text x="319.6" y="301.6" font-size="12.5" text-anchor="end" font-weight="normal" fill="#000" xml:space="preserve">1000</text>
<line x1="324.3" y1="425.7" x2="505.6" y2="425.7" stroke="#444" stroke-width="1.5"/>
<line x1="339.9" y1="425.7" x2="339.9" y2="428.0" stroke="#444" stroke-width="1.2"/>
<line x1="369.9" y1="425.7" x2="369.9" y2="428.0" stroke="#444" stroke-width="1.2"/>
<line x1="400.0" y1="425.7" x2="400.0" y2="428.0" stroke="#444" stroke-width="1.2"/>
<line x1="430.0" y1="425.7" x2="430.0" y2="428.0" stroke="#444" stroke-width="1.2"/>
<line x1="460.1" y1="425.7" x2="460.1" y2="428.0" stroke="#444" stroke-width="1.2"/>
<line x1="490.1" y1="425.7" x2="490.1" y2="428.0" stroke="#444" stroke-width="1.2"/>
<text x="339.3" y="442.7" font-size="12.5" text-anchor="middle" font-weight="normal" fill="#000" xml:space="preserve">0</text>
<text x="368.8" y="442.7" font-size="12.5" text-anchor="middle" font-weight="normal" fill="#000" xml:space="preserve">15</text>
<text x="400.4" y="442.7" font-size="12.5" text-anchor="middle" font-weight="normal" fill="#000" xml:space="preserve">30</text>
<text x="429.3" y="442.7" font-size="12.5" text-anchor="middle" font-weight="normal" fill="#000" xml:space="preserve">60</text>
<text x="459.2" y="442.7" font-size="12.5" text-anchor="middle" font-weight="normal" fill="#000" xml:space="preserve">90</text>
<text x="489.8" y="442.7" font-size="12.5" text-anchor="middle" font-weight="normal" fill="#000" xml:space="preserve">120</text>
<text x="422.2" y="462.6" font-size="13.4" text-anchor="middle" font-weight="normal" fill="#000" textLength="21.5" lengthAdjust="spacingAndGlyphs" xml:space="preserve">min</text>
<text x="290.7" y="346.7" font-size="14" text-anchor="middle" font-weight="normal" fill="#000" textLength="173.5" lengthAdjust="spacingAndGlyphs" transform="rotate(-90 290.7 346.7)" xml:space="preserve">Blood glucose level (mg/dL)</text>
<polyline points="339.9,412.1 369.9,397.4 400.0,402.1 430.0,408.4 460.1,410.3 490.1,411.3" fill="none" stroke="#111" stroke-width="1.1" stroke-linejoin="round" stroke-dasharray="2,1.6"/>
<path d="M346.20,388.18 C349.54,385.48 369.56,368.12 376.24,363.89 C382.92,359.67 399.60,352.06 406.28,350.14 C412.96,348.23 429.64,345.67 436.32,346.67 C443.00,347.67 459.68,356.35 466.36,359.14 C473.04,361.92 493.06,370.33 496.40,371.73" fill="none" stroke="#8a8a8a" stroke-width="1.0"/>
<path d="M343.20,389.33 C346.54,385.65 366.56,360.68 373.24,356.18 C379.92,351.68 396.60,350.21 403.28,348.86 C409.96,347.50 426.64,344.13 433.32,343.97 C440.00,343.82 456.68,346.09 463.36,347.44 C470.04,348.80 490.06,355.21 493.40,356.18" fill="none" stroke="#222" stroke-width="1.1"/>
<line x1="346.2" y1="379.1" x2="346.2" y2="397.3" stroke="#999" stroke-width="1.0"/>
<line x1="343.2" y1="379.1" x2="349.2" y2="379.1" stroke="#999" stroke-width="1.0"/>
<line x1="343.2" y1="397.3" x2="349.2" y2="397.3" stroke="#999" stroke-width="1.0"/>
<circle cx="346.2" cy="363.9" r="2.4" fill="#8c8c8c" stroke="none" stroke-width="1"/>
<circle cx="346.2" cy="382.0" r="2.4" fill="#8c8c8c" stroke="none" stroke-width="1"/>
<circle cx="346.2" cy="401.0" r="2.4" fill="#8c8c8c" stroke="none" stroke-width="1"/>
<circle cx="346.2" cy="403.6" r="2.4" fill="#8c8c8c" stroke="none" stroke-width="1"/>
<circle cx="343.2" cy="387.5" r="2.4" fill="#000" stroke="none" stroke-width="1"/>
<circle cx="343.2" cy="388.7" r="2.4" fill="#000" stroke="none" stroke-width="1"/>
<circle cx="343.2" cy="390.1" r="2.4" fill="#000" stroke="none" stroke-width="1"/>
<circle cx="343.2" cy="398.1" r="2.4" fill="#000" stroke="none" stroke-width="1"/>
<circle cx="339.4" cy="414.6" r="2.4" fill="#8c8c8c" stroke="none" stroke-width="1"/>
<circle cx="339.9" cy="411.8" r="2.2" fill="none" stroke="#000" stroke-width="0.9"/>
<line x1="369.9" y1="393.6" x2="369.9" y2="401.3" stroke="#222" stroke-width="1.3"/>
<line x1="367.6" y1="393.6" x2="372.2" y2="393.6" stroke="#222" stroke-width="1.3"/>
<line x1="367.6" y1="401.3" x2="372.2" y2="401.3" stroke="#222" stroke-width="1.3"/>
<line x1="373.2" y1="337.8" x2="373.2" y2="375.5" stroke="#333" stroke-width="1.0"/>
<line x1="370.2" y1="337.8" x2="376.2" y2="337.8" stroke="#333" stroke-width="1.0"/>
<line x1="370.2" y1="375.5" x2="376.2" y2="375.5" stroke="#333" stroke-width="1.0"/>
<line x1="376.2" y1="352.8" x2="376.2" y2="371.6" stroke="#999" stroke-width="1.0"/>
<line x1="373.2" y1="352.8" x2="379.2" y2="352.8" stroke="#999" stroke-width="1.0"/>
<line x1="373.2" y1="371.6" x2="379.2" y2="371.6" stroke="#999" stroke-width="1.0"/>
<circle cx="376.2" cy="337.0" r="2.4" fill="#8c8c8c" stroke="none" stroke-width="1"/>
<circle cx="376.2" cy="359.9" r="2.4" fill="#8c8c8c" stroke="none" stroke-width="1"/>
<circle cx="376.2" cy="374.9" r="2.4" fill="#8c8c8c" stroke="none" stroke-width="1"/>
<circle cx="376.2" cy="377.1" r="2.4" fill="#8c8c8c" stroke="none" stroke-width="1"/>
<circle cx="373.2" cy="321.5" r="2.4" fill="#000" stroke="none" stroke-width="1"/>
<circle cx="373.2" cy="361.7" r="2.4" fill="#000" stroke="none" stroke-width="1"/>
<circle cx="373.2" cy="386.4" r="2.4" fill="#000" stroke="none" stroke-width="1"/>
<circle cx="369.9" cy="386.0" r="2.2" fill="#fff" stroke="#000" stroke-width="0.9"/>
<circle cx="369.9" cy="393.7" r="2.2" fill="#fff" stroke="#000" stroke-width="0.9"/>
<circle cx="369.9" cy="397.0" r="2.2" fill="#fff" stroke="#000" stroke-width="0.9"/>
<circle cx="369.9" cy="410.7" r="2.2" fill="#fff" stroke="#000" stroke-width="0.9"/>
<line x1="400.0" y1="399.4" x2="400.0" y2="404.5" stroke="#222" stroke-width="1.3"/>
<line x1="397.7" y1="399.4" x2="402.3" y2="399.4" stroke="#222" stroke-width="1.3"/>
<line x1="397.7" y1="404.5" x2="402.3" y2="404.5" stroke="#222" stroke-width="1.3"/>
<line x1="403.3" y1="333.2" x2="403.3" y2="365.0" stroke="#333" stroke-width="1.0"/>
<line x1="400.3" y1="333.2" x2="406.3" y2="333.2" stroke="#333" stroke-width="1.0"/>
<line x1="400.3" y1="365.0" x2="406.3" y2="365.0" stroke="#333" stroke-width="1.0"/>
<line x1="406.3" y1="338.3" x2="406.3" y2="361.4" stroke="#999" stroke-width="1.0"/>
<line x1="403.3" y1="338.3" x2="409.3" y2="338.3" stroke="#999" stroke-width="1.0"/>
<line x1="403.3" y1="361.4" x2="409.3" y2="361.4" stroke="#999" stroke-width="1.0"/>
<circle cx="406.3" cy="328.6" r="2.4" fill="#8c8c8c" stroke="none" stroke-width="1"/>
<circle cx="406.3" cy="337.0" r="2.4" fill="#8c8c8c" stroke="none" stroke-width="1"/>
<circle cx="406.3" cy="366.5" r="2.4" fill="#8c8c8c" stroke="none" stroke-width="1"/>
<circle cx="406.3" cy="370.4" r="2.4" fill="#8c8c8c" stroke="none" stroke-width="1"/>
<circle cx="403.3" cy="331.3" r="2.4" fill="#000" stroke="none" stroke-width="1"/>
<circle cx="403.3" cy="333.1" r="2.4" fill="#000" stroke="none" stroke-width="1"/>
<circle cx="403.3" cy="381.5" r="2.4" fill="#000" stroke="none" stroke-width="1"/>
<circle cx="400.0" cy="395.9" r="2.2" fill="#fff" stroke="#000" stroke-width="0.9"/>
<circle cx="400.0" cy="400.3" r="2.2" fill="#fff" stroke="#000" stroke-width="0.9"/>
<circle cx="400.0" cy="402.6" r="2.2" fill="#fff" stroke="#000" stroke-width="0.9"/>
<circle cx="400.0" cy="410.7" r="2.2" fill="#fff" stroke="#000" stroke-width="0.9"/>
<line x1="430.0" y1="406.4" x2="430.0" y2="410.3" stroke="#222" stroke-width="1.3"/>
<line x1="427.7" y1="406.4" x2="432.3" y2="406.4" stroke="#222" stroke-width="1.3"/>
<line x1="427.7" y1="410.3" x2="432.3" y2="410.3" stroke="#222" stroke-width="1.3"/>
<line x1="433.3" y1="322.4" x2="433.3" y2="366.6" stroke="#333" stroke-width="1.0"/>
<line x1="430.3" y1="322.4" x2="436.3" y2="322.4" stroke="#333" stroke-width="1.0"/>
<line x1="430.3" y1="366.6" x2="436.3" y2="366.6" stroke="#333" stroke-width="1.0"/>
<line x1="436.3" y1="335.2" x2="436.3" y2="360.6" stroke="#999" stroke-width="1.0"/>
<line x1="433.3" y1="335.2" x2="439.3" y2="335.2" stroke="#999" stroke-width="1.0"/>
<line x1="433.3" y1="360.6" x2="439.3" y2="360.6" stroke="#999" stroke-width="1.0"/>
<circle cx="436.3" cy="314.7" r="2.4" fill="#8c8c8c" stroke="none" stroke-width="1"/>
<circle cx="436.3" cy="340.1" r="2.4" fill="#8c8c8c" stroke="none" stroke-width="1"/>
<circle cx="436.3" cy="365.0" r="2.4" fill="#8c8c8c" stroke="none" stroke-width="1"/>
<circle cx="436.3" cy="370.6" r="2.4" fill="#8c8c8c" stroke="none" stroke-width="1"/>
<circle cx="433.3" cy="309.8" r="2.4" fill="#000" stroke="none" stroke-width="1"/>
<circle cx="433.3" cy="338.1" r="2.4" fill="#000" stroke="none" stroke-width="1"/>
<circle cx="433.3" cy="386.0" r="2.4" fill="#000" stroke="none" stroke-width="1"/>
<circle cx="430.0" cy="405.9" r="2.2" fill="#fff" stroke="#000" stroke-width="0.9"/>
<circle cx="430.0" cy="408.1" r="2.2" fill="#fff" stroke="#000" stroke-width="0.9"/>
<circle cx="430.0" cy="410.8" r="2.2" fill="#fff" stroke="#000" stroke-width="0.9"/>
<circle cx="430.0" cy="412.5" r="2.2" fill="#fff" stroke="#000" stroke-width="0.9"/>
<line x1="460.1" y1="409.0" x2="460.1" y2="411.6" stroke="#222" stroke-width="1.3"/>
<line x1="457.8" y1="409.0" x2="462.4" y2="409.0" stroke="#222" stroke-width="1.3"/>
<line x1="457.8" y1="411.6" x2="462.4" y2="411.6" stroke="#222" stroke-width="1.3"/>
<line x1="463.4" y1="327.5" x2="463.4" y2="368.4" stroke="#333" stroke-width="1.0"/>
<line x1="460.4" y1="327.5" x2="466.4" y2="327.5" stroke="#333" stroke-width="1.0"/>
<line x1="460.4" y1="368.4" x2="466.4" y2="368.4" stroke="#333" stroke-width="1.0"/>
<line x1="466.4" y1="345.3" x2="466.4" y2="376.1" stroke="#999" stroke-width="1.0"/>
<line x1="463.4" y1="345.3" x2="469.4" y2="345.3" stroke="#999" stroke-width="1.0"/>
<line x1="463.4" y1="376.1" x2="469.4" y2="376.1" stroke="#999" stroke-width="1.0"/>
<circle cx="466.4" cy="318.7" r="2.4" fill="#8c8c8c" stroke="none" stroke-width="1"/>
<circle cx="466.4" cy="362.9" r="2.4" fill="#8c8c8c" stroke="none" stroke-width="1"/>
<circle cx="466.4" cy="366.6" r="2.4" fill="#8c8c8c" stroke="none" stroke-width="1"/>
<circle cx="466.4" cy="394.9" r="2.4" fill="#8c8c8c" stroke="none" stroke-width="1"/>
<circle cx="463.4" cy="314.2" r="2.4" fill="#000" stroke="none" stroke-width="1"/>
<circle cx="463.4" cy="344.5" r="2.4" fill="#000" stroke="none" stroke-width="1"/>
<circle cx="463.4" cy="385.0" r="2.4" fill="#000" stroke="none" stroke-width="1"/>
<circle cx="460.1" cy="408.4" r="2.2" fill="#fff" stroke="#000" stroke-width="0.9"/>
<circle cx="460.1" cy="410.3" r="2.2" fill="#fff" stroke="#000" stroke-width="0.9"/>
<circle cx="460.1" cy="411.6" r="2.2" fill="#fff" stroke="#000" stroke-width="0.9"/>
<circle cx="460.1" cy="412.5" r="2.2" fill="#fff" stroke="#000" stroke-width="0.9"/>
<line x1="490.1" y1="410.3" x2="490.1" y2="412.3" stroke="#222" stroke-width="1.3"/>
<line x1="487.8" y1="410.3" x2="492.4" y2="410.3" stroke="#222" stroke-width="1.3"/>
<line x1="487.8" y1="412.3" x2="492.4" y2="412.3" stroke="#222" stroke-width="1.3"/>
<line x1="493.4" y1="336.3" x2="493.4" y2="376.1" stroke="#333" stroke-width="1.0"/>
<line x1="490.4" y1="336.3" x2="496.4" y2="336.3" stroke="#333" stroke-width="1.0"/>
<line x1="490.4" y1="376.1" x2="496.4" y2="376.1" stroke="#333" stroke-width="1.0"/>
<line x1="496.4" y1="356.2" x2="496.4" y2="390.4" stroke="#999" stroke-width="1.0"/>
<line x1="493.4" y1="356.2" x2="499.4" y2="356.2" stroke="#999" stroke-width="1.0"/>
<line x1="493.4" y1="390.4" x2="499.4" y2="390.4" stroke="#999" stroke-width="1.0"/>
<circle cx="496.4" cy="330.9" r="2.4" fill="#8c8c8c" stroke="none" stroke-width="1"/>
<circle cx="496.4" cy="363.9" r="2.4" fill="#8c8c8c" stroke="none" stroke-width="1"/>
<circle cx="496.4" cy="390.4" r="2.4" fill="#8c8c8c" stroke="none" stroke-width="1"/>
<circle cx="496.4" cy="407.7" r="2.4" fill="#8c8c8c" stroke="none" stroke-width="1"/>
<circle cx="493.4" cy="319.8" r="2.4" fill="#000" stroke="none" stroke-width="1"/>
<circle cx="493.4" cy="358.9" r="2.4" fill="#000" stroke="none" stroke-width="1"/>
<circle cx="493.4" cy="389.3" r="2.4" fill="#000" stroke="none" stroke-width="1"/>
<circle cx="490.1" cy="409.6" r="2.2" fill="#fff" stroke="#000" stroke-width="0.9"/>
<circle cx="490.1" cy="411.3" r="2.2" fill="#fff" stroke="#000" stroke-width="0.9"/>
<circle cx="490.1" cy="412.3" r="2.2" fill="#fff" stroke="#000" stroke-width="0.9"/>
<circle cx="490.1" cy="413.1" r="2.2" fill="#fff" stroke="#000" stroke-width="0.9"/>
<polygon points="405.10,297.70 405.89,299.41 407.76,299.63 406.38,300.92 406.75,302.77 405.10,301.85 403.45,302.77 403.82,300.92 402.44,299.63 404.31,299.41" fill="#111"/>
<polygon points="435.40,290.50 436.19,292.21 438.06,292.43 436.68,293.72 437.05,295.57 435.40,294.65 433.75,295.57 434.12,293.72 432.74,292.43 434.61,292.21" fill="#111"/>
<text x="513.5" y="242.9" font-size="20" text-anchor="start" font-weight="bold" fill="#000" xml:space="preserve">E</text>
<rect x="540.7" y="228.7" width="8.8" height="7.8" fill="#fff" stroke="#000" stroke-width="1.4"/>
<rect x="540.0" y="243.0" width="10.0" height="8.3" fill="#000" stroke="none" stroke-width="1"/>
<rect x="540.5" y="258.0" width="9.2" height="7.8" fill="#bdbdbd" stroke="#9a9a9a" stroke-width="1.0"/>
<text x="560.0" y="237.6" font-size="12" text-anchor="start" font-weight="normal" fill="#000" textLength="18.0" lengthAdjust="spacingAndGlyphs" xml:space="preserve">WT</text>
<text x="560.0" y="251.0" font-size="12" text-anchor="start" font-weight="normal" fill="#000" textLength="105.2" lengthAdjust="spacingAndGlyphs" xml:space="preserve">Kuma, insulin Tp(+)</text>
<text x="560.0" y="265.1" font-size="12" text-anchor="start" font-weight="normal" fill="#000" textLength="103.2" lengthAdjust="spacingAndGlyphs" xml:space="preserve">Kuma, insulin Tp (-)</text>
<line x1="575.6" y1="284.7" x2="575.6" y2="425.9" stroke="#000" stroke-width="1.4"/>
<line x1="572.6" y1="425.2" x2="575.6" y2="425.2" stroke="#000" stroke-width="1.3"/>
<text x="572.0" y="429.3" font-size="11.5" text-anchor="end" font-weight="bold" fill="#000" xml:space="preserve">0</text>
<line x1="572.6" y1="397.1" x2="575.6" y2="397.1" stroke="#000" stroke-width="1.3"/>
<text x="572.0" y="401.2" font-size="11.5" text-anchor="end" font-weight="bold" fill="#000" xml:space="preserve">20000</text>
<line x1="572.6" y1="368.9" x2="575.6" y2="368.9" stroke="#000" stroke-width="1.3"/>
<text x="572.0" y="373.0" font-size="11.5" text-anchor="end" font-weight="bold" fill="#000" xml:space="preserve">40000</text>
<line x1="572.6" y1="340.8" x2="575.6" y2="340.8" stroke="#000" stroke-width="1.3"/>
<text x="572.0" y="344.9" font-size="11.5" text-anchor="end" font-weight="bold" fill="#000" xml:space="preserve">60000</text>
<line x1="572.6" y1="312.6" x2="575.6" y2="312.6" stroke="#000" stroke-width="1.3"/>
<text x="572.0" y="316.7" font-size="11.5" text-anchor="end" font-weight="bold" fill="#000" xml:space="preserve">80000</text>
<line x1="572.6" y1="284.4" x2="575.6" y2="284.4" stroke="#000" stroke-width="1.3"/>
<text x="572.0" y="288.6" font-size="11.5" text-anchor="end" font-weight="bold" fill="#000" xml:space="preserve">100000</text>
<line x1="574.9" y1="425.2" x2="668.5" y2="425.2" stroke="#000" stroke-width="1.4"/>
<line x1="593.7" y1="425.2" x2="593.7" y2="427.4" stroke="#000" stroke-width="1.2"/>
<line x1="622.2" y1="425.2" x2="622.2" y2="427.4" stroke="#000" stroke-width="1.2"/>
<line x1="650.1" y1="425.2" x2="650.1" y2="427.4" stroke="#000" stroke-width="1.2"/>
<text x="530.9" y="349.0" font-size="14" text-anchor="middle" font-weight="normal" fill="#000" textLength="28.7" lengthAdjust="spacingAndGlyphs" transform="rotate(-90 530.9 349.0)" xml:space="preserve">AUC</text>
<rect x="583.6" y="401.3" width="20.4" height="23.9" fill="#fff" stroke="#000" stroke-width="1.2"/>
<rect x="611.2" y="337.4" width="21.3" height="87.8" fill="#000" stroke="none" stroke-width="1"/>
<rect x="639.6" y="328.4" width="20.9" height="96.8" fill="#7f7f7f" stroke="#444" stroke-width="0.8"/>
<line x1="593.8" y1="398.5" x2="593.8" y2="403.4" stroke="#000" stroke-width="1.1"/>
<line x1="590.3" y1="398.5" x2="597.3" y2="398.5" stroke="#000" stroke-width="1.1"/>
<line x1="590.3" y1="403.4" x2="597.3" y2="403.4" stroke="#000" stroke-width="1.1"/>
<line x1="621.9" y1="321.0" x2="621.9" y2="337.4" stroke="#bbb" stroke-width="1.1"/>
<line x1="617.6" y1="321.0" x2="626.2" y2="321.0" stroke="#bbb" stroke-width="1.1"/>
<line x1="617.6" y1="337.4" x2="626.2" y2="337.4" stroke="#bbb" stroke-width="1.1"/>
<line x1="617.6" y1="353.4" x2="626.2" y2="353.4" stroke="#fff" stroke-width="1.1"/>
<line x1="621.9" y1="337.4" x2="621.9" y2="353.4" stroke="#fff" stroke-width="1.1"/>
<line x1="650.0" y1="305.6" x2="650.0" y2="350.9" stroke="#333" stroke-width="1.1"/>
<line x1="645.7" y1="305.6" x2="654.3" y2="305.6" stroke="#333" stroke-width="1.1"/>
<line x1="645.7" y1="350.9" x2="654.3" y2="350.9" stroke="#333" stroke-width="1.1"/>
<circle cx="590.3" cy="396.3" r="2.2" fill="#fff" stroke="#000" stroke-width="1.0"/>
<circle cx="596.9" cy="400.4" r="2.2" fill="#fff" stroke="#000" stroke-width="1.0"/>
<circle cx="601.1" cy="398.7" r="2.2" fill="#fff" stroke="#000" stroke-width="1.0"/>
<circle cx="590.3" cy="407.3" r="2.2" fill="#fff" stroke="#000" stroke-width="1.0"/>
<circle cx="622.2" cy="293.8" r="2.2" fill="#000" stroke="none" stroke-width="1"/>
<circle cx="622.2" cy="336.2" r="2.2" fill="#000" stroke="none" stroke-width="1"/>
<circle cx="622.2" cy="350.4" r="2.3" fill="#000" stroke="#fff" stroke-width="1.0"/>
<circle cx="622.2" cy="369.3" r="2.3" fill="#000" stroke="#fff" stroke-width="1.0"/>
<circle cx="650.1" cy="296.2" r="2.3" fill="#6a6a6a" stroke="#444" stroke-width="0.6"/>
<circle cx="650.1" cy="315.4" r="2.3" fill="#6a6a6a" stroke="#444" stroke-width="0.6"/>
<circle cx="650.1" cy="373.0" r="2.3" fill="#6a6a6a" stroke="#444" stroke-width="0.6"/>
<line x1="587.1" y1="287.3" x2="642.6" y2="287.3" stroke="#333" stroke-width="1.1"/>
<polygon points="597.30,281.50 598.06,283.15 599.87,283.37 598.54,284.60 598.89,286.38 597.30,285.50 595.71,286.38 596.06,284.60 594.73,283.37 596.54,283.15" fill="#111"/>
<line x1="617.9" y1="283.9" x2="641.2" y2="283.9" stroke="#999" stroke-width="1.3"/>
<text x="627.7" y="281.5" font-size="13" text-anchor="middle" font-weight="normal" fill="#000" textLength="13.4" lengthAdjust="spacingAndGlyphs" xml:space="preserve">ns</text>
<line x1="586.1" y1="326.0" x2="616.8" y2="326.0" stroke="#888" stroke-width="1.3"/>
<polygon points="599.70,320.20 600.46,321.85 602.27,322.07 600.94,323.30 601.29,325.08 599.70,324.20 598.11,325.08 598.46,323.30 597.13,322.07 598.94,321.85" fill="#111"/>
<rect x="515.0" y="287.0" width="1.3" height="3.0" fill="#555" stroke="none" stroke-width="1"/>
<text x="1.5" y="510.0" font-size="20" text-anchor="start" font-weight="bold" fill="#000" xml:space="preserve">F</text>
<line x1="64.0" y1="510.8" x2="64.0" y2="683.3" stroke="#666" stroke-width="1.4"/>
<line x1="59.6" y1="682.4" x2="64.0" y2="682.4" stroke="#666" stroke-width="1.3"/>
<text x="47.9" y="686.4" font-size="11.3" text-anchor="end" font-weight="normal" fill="#000" xml:space="preserve">0</text>
<line x1="59.6" y1="648.1" x2="64.0" y2="648.1" stroke="#666" stroke-width="1.3"/>
<text x="55.0" y="652.1" font-size="11.3" text-anchor="end" font-weight="normal" fill="#000" xml:space="preserve">200</text>
<line x1="59.6" y1="613.8" x2="64.0" y2="613.8" stroke="#666" stroke-width="1.3"/>
<text x="55.0" y="617.8" font-size="11.3" text-anchor="end" font-weight="normal" fill="#000" xml:space="preserve">400</text>
<line x1="59.6" y1="579.4" x2="64.0" y2="579.4" stroke="#666" stroke-width="1.3"/>
<text x="55.0" y="583.4" font-size="11.3" text-anchor="end" font-weight="normal" fill="#000" xml:space="preserve">600</text>
<line x1="59.6" y1="545.1" x2="64.0" y2="545.1" stroke="#666" stroke-width="1.3"/>
<text x="55.0" y="549.1" font-size="11.3" text-anchor="end" font-weight="normal" fill="#000" xml:space="preserve">800</text>
<line x1="59.6" y1="510.8" x2="64.0" y2="510.8" stroke="#666" stroke-width="1.3"/>
<text x="55.0" y="514.8" font-size="11.3" text-anchor="end" font-weight="normal" fill="#000" xml:space="preserve">1000</text>
<line x1="63.5" y1="682.8" x2="285.2" y2="682.8" stroke="#444" stroke-width="1.3"/>
<line x1="63.9" y1="682.8" x2="63.9" y2="685.6" stroke="#444" stroke-width="1.2"/>
<line x1="100.8" y1="682.8" x2="100.8" y2="685.6" stroke="#444" stroke-width="1.2"/>
<line x1="137.6" y1="682.8" x2="137.6" y2="685.6" stroke="#444" stroke-width="1.2"/>
<line x1="174.5" y1="682.8" x2="174.5" y2="685.6" stroke="#444" stroke-width="1.2"/>
<line x1="211.3" y1="682.8" x2="211.3" y2="685.6" stroke="#444" stroke-width="1.2"/>
<line x1="248.2" y1="682.8" x2="248.2" y2="685.6" stroke="#444" stroke-width="1.2"/>
<line x1="285.0" y1="682.8" x2="285.0" y2="685.6" stroke="#444" stroke-width="1.2"/>
<text x="63.2" y="700.8" font-size="11.3" text-anchor="middle" font-weight="normal" fill="#000" xml:space="preserve">-13</text>
<text x="103.8" y="700.8" font-size="11.3" text-anchor="middle" font-weight="normal" fill="#000" xml:space="preserve">-6</text>
<text x="142.9" y="700.8" font-size="11.3" text-anchor="middle" font-weight="normal" fill="#000" xml:space="preserve">0</text>
<text x="162.4" y="700.8" font-size="11.3" text-anchor="middle" font-weight="normal" fill="#000" xml:space="preserve">4</text>
<text x="178.8" y="700.8" font-size="11.3" text-anchor="middle" font-weight="normal" fill="#000" xml:space="preserve">8</text>
<text x="194.9" y="700.8" font-size="11.3" text-anchor="middle" font-weight="normal" fill="#000" xml:space="preserve">12</text>
<text x="212.3" y="700.8" font-size="11.3" text-anchor="middle" font-weight="normal" fill="#000" xml:space="preserve">14</text>
<text x="238.5" y="700.8" font-size="11.3" text-anchor="middle" font-weight="normal" fill="#000" xml:space="preserve">18</text>
<text x="273.3" y="700.8" font-size="11.3" text-anchor="middle" font-weight="normal" fill="#000" xml:space="preserve">24</text>
<text x="162.5" y="720.6" font-size="14" text-anchor="middle" font-weight="normal" fill="#000" textLength="140.8" lengthAdjust="spacingAndGlyphs" xml:space="preserve">days after implants TP</text>
<text x="20.2" y="606.5" font-size="13.3" text-anchor="middle" font-weight="normal" fill="#000" textLength="160.5" lengthAdjust="spacingAndGlyphs" transform="rotate(-90 20.2 606.5)" xml:space="preserve">Blood glucose level(mg/dL)</text>
<rect x="138.8" y="491.3" width="73.6" height="29.2" fill="#878787" stroke="none" stroke-width="1"/>
<text x="175.6" y="510.1" font-size="11.5" text-anchor="middle" font-weight="normal" fill="#f4f4f4" textLength="49.3" lengthAdjust="spacingAndGlyphs" xml:space="preserve">Insulin Tp</text>
<line x1="138.3" y1="507.0" x2="138.3" y2="683.0" stroke="#222" stroke-width="1.0" stroke-dasharray="4,2"/>
<line x1="211.3" y1="520.5" x2="211.3" y2="683.0" stroke="#222" stroke-width="1.0" stroke-dasharray="4,2"/>
<circle cx="69.2" cy="528.5" r="2.35" fill="#000" stroke="none" stroke-width="1"/>
<circle cx="69.2" cy="568.8" r="2.35" fill="#000" stroke="none" stroke-width="1"/>
<circle cx="69.2" cy="592.0" r="2.35" fill="#000" stroke="none" stroke-width="1"/>
<circle cx="69.2" cy="595.5" r="2.35" fill="#000" stroke="none" stroke-width="1"/>
<circle cx="105.8" cy="537.1" r="2.35" fill="#000" stroke="none" stroke-width="1"/>
<circle cx="105.8" cy="559.8" r="2.35" fill="#000" stroke="none" stroke-width="1"/>
<circle cx="105.8" cy="577.8" r="2.35" fill="#000" stroke="none" stroke-width="1"/>
<circle cx="105.8" cy="593.0" r="2.35" fill="#000" stroke="none" stroke-width="1"/>
<circle cx="137.3" cy="529.2" r="2.35" fill="#000" stroke="none" stroke-width="1"/>
<circle cx="137.3" cy="534.1" r="2.35" fill="#000" stroke="none" stroke-width="1"/>
<circle cx="137.3" cy="565.8" r="2.35" fill="#000" stroke="none" stroke-width="1"/>
<circle cx="142.9" cy="568.4" r="2.35" fill="#000" stroke="none" stroke-width="1"/>
<circle cx="137.5" cy="585.6" r="2.35" fill="#000" stroke="none" stroke-width="1"/>
<circle cx="142.9" cy="585.1" r="2.35" fill="#000" stroke="none" stroke-width="1"/>
<circle cx="147.9" cy="583.8" r="2.35" fill="#000" stroke="none" stroke-width="1"/>
<circle cx="153.3" cy="583.8" r="2.35" fill="#000" stroke="none" stroke-width="1"/>
<circle cx="142.6" cy="594.0" r="2.35" fill="#000" stroke="none" stroke-width="1"/>
<circle cx="158.2" cy="593.7" r="2.35" fill="#000" stroke="none" stroke-width="1"/>
<circle cx="147.9" cy="602.1" r="2.35" fill="#000" stroke="none" stroke-width="1"/>
<circle cx="148.1" cy="600.0" r="2.35" fill="#000" stroke="none" stroke-width="1"/>
<circle cx="142.9" cy="587.8" r="2.35" fill="#000" stroke="none" stroke-width="1"/>
<circle cx="153.3" cy="605.7" r="2.35" fill="#000" stroke="none" stroke-width="1"/>
<circle cx="153.3" cy="631.7" r="2.35" fill="#000" stroke="none" stroke-width="1"/>
<circle cx="158.7" cy="634.4" r="2.35" fill="#000" stroke="none" stroke-width="1"/>
<circle cx="163.5" cy="635.3" r="2.35" fill="#000" stroke="none" stroke-width="1"/>
<circle cx="158.7" cy="644.2" r="2.35" fill="#000" stroke="none" stroke-width="1"/>
<circle cx="179.7" cy="644.2" r="2.35" fill="#000" stroke="none" stroke-width="1"/>
<circle cx="174.3" cy="649.6" r="2.35" fill="#000" stroke="none" stroke-width="1"/>
<circle cx="158.7" cy="656.8" r="2.35" fill="#000" stroke="none" stroke-width="1"/>
<circle cx="163.5" cy="658.6" r="2.35" fill="#000" stroke="none" stroke-width="1"/>
<circle cx="153.3" cy="662.7" r="2.35" fill="#000" stroke="none" stroke-width="1"/>
<circle cx="168.9" cy="665.7" r="2.35" fill="#000" stroke="none" stroke-width="1"/>
<circle cx="174.3" cy="667.5" r="2.35" fill="#000" stroke="none" stroke-width="1"/>
<circle cx="179.7" cy="672.0" r="2.35" fill="#000" stroke="none" stroke-width="1"/>
<circle cx="194.9" cy="661.3" r="2.35" fill="#000" stroke="none" stroke-width="1"/>
<circle cx="194.9" cy="664.8" r="2.35" fill="#000" stroke="none" stroke-width="1"/>
<circle cx="200.3" cy="667.2" r="2.35" fill="#000" stroke="none" stroke-width="1"/>
<circle cx="194.9" cy="644.2" r="2.35" fill="#000" stroke="none" stroke-width="1"/>
<circle cx="200.3" cy="641.5" r="2.35" fill="#000" stroke="none" stroke-width="1"/>
<circle cx="194.9" cy="601.2" r="2.35" fill="#000" stroke="none" stroke-width="1"/>
<circle cx="211.0" cy="574.0" r="2.35" fill="#000" stroke="none" stroke-width="1"/>
<circle cx="216.4" cy="617.7" r="2.35" fill="#000" stroke="none" stroke-width="1"/>
<circle cx="211.0" cy="661.3" r="2.35" fill="#000" stroke="none" stroke-width="1"/>
<circle cx="184.6" cy="661.9" r="2.35" fill="#000" stroke="none" stroke-width="1"/>
<circle cx="189.7" cy="662.6" r="2.35" fill="#000" stroke="none" stroke-width="1"/>
<circle cx="179.7" cy="663.5" r="2.35" fill="#000" stroke="none" stroke-width="1"/>
<circle cx="232.1" cy="554.3" r="2.35" fill="#000" stroke="none" stroke-width="1"/>
<circle cx="232.1" cy="569.9" r="2.35" fill="#000" stroke="none" stroke-width="1"/>
<circle cx="247.9" cy="557.7" r="2.35" fill="#000" stroke="none" stroke-width="1"/>
<circle cx="247.9" cy="604.3" r="2.35" fill="#000" stroke="none" stroke-width="1"/>
<circle cx="263.5" cy="529.0" r="2.35" fill="#000" stroke="none" stroke-width="1"/>
<circle cx="263.5" cy="553.2" r="2.35" fill="#000" stroke="none" stroke-width="1"/>
<rect x="61.0" y="578.6" width="16.4" height="3.8" fill="#000" stroke="none" stroke-width="1"/>
<rect x="98.0" y="566.9" width="16.0" height="3.8" fill="#000" stroke="none" stroke-width="1"/>
<rect x="129.4" y="547.9" width="16.3" height="3.8" fill="#000" stroke="none" stroke-width="1"/>
<rect x="134.9" y="583.7" width="16.6" height="3.8" fill="#000" stroke="none" stroke-width="1"/>
<rect x="140.2" y="591.3" width="18.8" height="3.8" fill="#000" stroke="none" stroke-width="1"/>
<rect x="145.3" y="616.7" width="16.4" height="3.8" fill="#000" stroke="none" stroke-width="1"/>
<rect x="150.6" y="637.3" width="16.0" height="3.8" fill="#000" stroke="none" stroke-width="1"/>
<rect x="155.8" y="645.0" width="15.8" height="3.8" fill="#000" stroke="none" stroke-width="1"/>
<rect x="166.6" y="656.7" width="15.4" height="3.8" fill="#000" stroke="none" stroke-width="1"/>
<rect x="160.8" y="661.1" width="26.9" height="3.8" fill="#000" stroke="none" stroke-width="1"/>
<rect x="187.4" y="651.6" width="20.9" height="3.8" fill="#000" stroke="none" stroke-width="1"/>
<rect x="203.5" y="615.8" width="21.0" height="3.8" fill="#000" stroke="none" stroke-width="1"/>
<rect x="224.0" y="560.3" width="16.2" height="3.8" fill="#000" stroke="none" stroke-width="1"/>
<rect x="239.8" y="579.1" width="16.1" height="3.8" fill="#000" stroke="none" stroke-width="1"/>
<rect x="255.6" y="539.0" width="16.1" height="3.8" fill="#000" stroke="none" stroke-width="1"/>
</svg>
</body></html>
